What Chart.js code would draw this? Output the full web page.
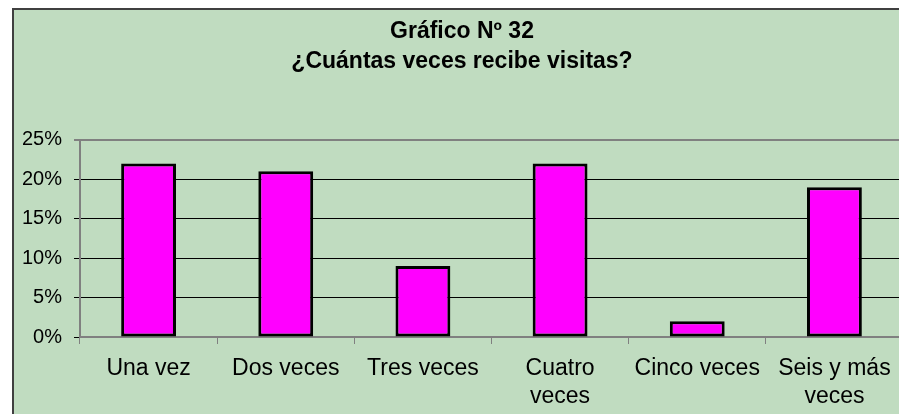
<!DOCTYPE html>
<html>
<head>
<meta charset="utf-8">
<script src="https://cdn.jsdelivr.net/npm/chart.js@4.4.1/dist/chart.umd.min.js"></script>
<style>
  html, body { margin: 0; padding: 0; background: #fff; overflow: hidden; }
  #wrap { position: absolute; left: 0; top: 0; width: 903px; height: 414px; }
</style>
</head>
<body>
<div id="wrap"><canvas id="chart" width="903" height="414"></canvas></div>
<script>
'use strict';

// ── Datos ────────────────────────────────────────────────────────────────────
const categorias  = ['Una vez', 'Dos veces', 'Tres veces', ['Cuatro', 'veces'], 'Cinco veces', ['Seis y más', 'veces']];
const porcentajes = [22, 21, 9, 22, 2, 19];
const ejeY        = { min: 0, max: 25, paso: 5 };
const titulo      = ['Gráfico Nº 32', '¿Cuántas veces recibe visitas?'];

const FONT = "'Liberation Sans', Arial, sans-serif";

// green panel with dark frame, like the spreadsheet chart area
const fondo = {
  id: 'fondo',
  beforeDraw(chart) {
    const { ctx, width, height } = chart;
    ctx.save();
    ctx.fillStyle = '#ffffff';
    ctx.fillRect(0, 0, width, height);
    ctx.fillStyle = '#c0dcc0';
    ctx.fillRect(12, 8, width, height);
    ctx.strokeStyle = '#404040';
    ctx.lineWidth = 2;
    ctx.strokeRect(13, 9, width + 10, height + 10);
    ctx.restore();
  },
};

new Chart(document.getElementById('chart'), {
  type: 'bar',
  data: {
    labels: categorias,
    datasets: [{
      data: porcentajes,
      backgroundColor: '#ff00ff',
      borderColor: '#000000',
      borderWidth: 3,
      borderSkipped: false,
      categoryPercentage: 1,
      barPercentage: 0.4,
    }],
  },
  options: {
    responsive: false,
    animation: false,
    devicePixelRatio: 1,
    layout: { padding: { left: 21, right: 0, top: 0, bottom: 0 } },
    plugins: {
      legend: { display: false },
      tooltip: { enabled: false },
      title: {
        display: true,
        text: titulo,
        color: '#000',
        font: { family: FONT, size: 23, weight: 'bold', lineHeight: 1.3 },
        padding: { top: 17, bottom: 63 },
      },
    },
    scales: {
      x: {
        grid: {
          offset: true,
          drawOnChartArea: false,
          color: '#808080',
          tickLength: 7,
          lineWidth: 1,
        },
        border: { color: '#808080', width: 2 },
        ticks: {
          color: '#000',
          padding: 11,
          maxRotation: 0,
          autoSkip: false,
          font: { family: FONT, size: 23, lineHeight: 1.2 },
        },
        afterFit: s => { s.height = 77; },
      },
      y: {
        min: ejeY.min,
        max: ejeY.max,
        ticks: {
          stepSize: ejeY.paso,
          color: '#000',
          padding: 12,
          font: { family: FONT, size: 20 },
          callback: v => v + '%',
        },
        grid: {
          tickLength: 6,
          color: c => (c.tick && c.tick.value === ejeY.max) ? '#808080' : '#000000',
          lineWidth: c => (c.tick && c.tick.value === ejeY.max) ? 2 : 1,
        },
        border: { color: '#808080', width: 2 },
        afterFit: s => { s.width = 59; },
      },
    },
  },
  plugins: [fondo],
});
</script>
</body>
</html>
